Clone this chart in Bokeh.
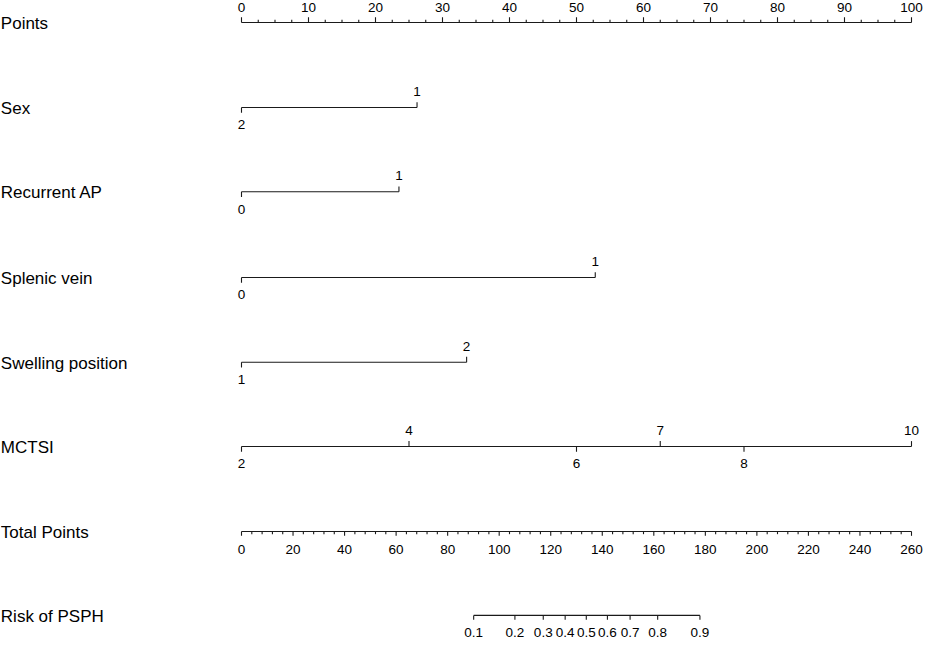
from bokeh.plotting import figure
from bokeh.models import Range1d
from bokeh.core.properties import value
from bokeh.embed import file_html
from bokeh.resources import INLINE

# ---------------- data ----------------
row_names = ["Points", "Sex", "Recurrent AP", "Splenic vein",
             "Swelling position", "MCTSI", "Total Points", "Risk of PSPH"]

points_max = 100
points_major = [0, 10, 20, 30, 40, 50, 60, 70, 80, 90, 100]
points_minor_step = 2.5

sex_levels = ["2", "1"]
sex_points = [0, 26.2]

recurrent_levels = ["0", "1"]
recurrent_points = [0, 23.5]

splenic_levels = ["0", "1"]
splenic_points = [0, 52.8]

swelling_levels = ["1", "2"]
swelling_points = [0, 33.6]

mctsi_levels = ["2", "4", "6", "7", "8", "10"]
mctsi_points = [0, 25.0, 50.0, 62.5, 75.0, 100.0]

total_max = 260
total_major = [0, 20, 40, 60, 80, 100, 120, 140, 160, 180, 200, 220, 240, 260]
total_minor_step = 4

risk_labels = ["0.1", "0.2", "0.3", "0.4", "0.5", "0.6", "0.7", "0.8", "0.9"]
risk_total_points = [90.1, 106.1, 117.1, 125.6, 133.8, 142.0, 150.8, 161.5, 177.9]

# ---------------- layout ----------------
ROW_Y = [22.7, 110.5, 197.5, 286.0, 373.5, 460.5, 548.3, 635.0]
FONT = value("Liberation Sans")
LC = "#1a1a1a"
LW = 1.1
TICK_FS = "13.5px"

p = figure(width=925, height=643,
           x_range=Range1d(-35.97, 102.09), y_range=Range1d(664, 0),
           x_axis_type=None, y_axis_type=None,
           output_backend="svg", toolbar_location=None, min_border=0)
p.grid.visible = False
p.outline_line_color = None
p.background_fill_color = "white"
p.border_fill_color = "white"

xmin = p.x_range.start

# row labels
p.text(x=[xmin + 0.05] * len(row_names), y=[y + 1 for y in ROW_Y], text=row_names,
       text_font=FONT, text_font_size="17px", text_align="left",
       text_baseline="middle", text_color="black")

# ---- Points axis ----
y0 = ROW_Y[0]
p.segment(x0=[0], y0=[y0], x1=[points_max], y1=[y0], line_color=LC, line_width=LW)
minor = []
v = 0.0
while v <= points_max + 1e-9:
    if all(abs(v - m) > 1e-9 for m in points_major):
        minor.append(v)
    v += points_minor_step
p.segment(x0=points_major, y0=[y0] * len(points_major), x1=points_major,
          y1=[y0 - 5.5] * len(points_major), line_color=LC, line_width=LW)
p.segment(x0=minor, y0=[y0] * len(minor), x1=minor, y1=[y0 - 2.8] * len(minor),
          line_color=LC, line_width=LW)
p.text(x=points_major, y=[y0 - 15] * len(points_major),
       text=[str(t) for t in points_major], text_font=FONT, text_font_size=TICK_FS,
       text_align="center", text_baseline="middle", text_color="black")

# ---- categorical / continuous predictors ----
variables = [
    (sex_levels, sex_points),
    (recurrent_levels, recurrent_points),
    (splenic_levels, splenic_points),
    (swelling_levels, swelling_points),
    (mctsi_levels, mctsi_points),
]
for i, (levels, pts) in enumerate(variables):
    y = ROW_Y[i + 1]
    p.segment(x0=[min(pts)], y0=[y], x1=[max(pts)], y1=[y], line_color=LC, line_width=LW)
    up_x, up_t, dn_x, dn_t = [], [], [], []
    for j, (lev, px) in enumerate(zip(levels, pts)):
        if j % 2 == 1:
            up_x.append(px); up_t.append(lev)
        else:
            dn_x.append(px); dn_t.append(lev)
    p.segment(x0=up_x, y0=[y] * len(up_x), x1=up_x, y1=[y - 5.5] * len(up_x),
              line_color=LC, line_width=LW)
    p.segment(x0=dn_x, y0=[y] * len(dn_x), x1=dn_x, y1=[y + 5.5] * len(dn_x),
              line_color=LC, line_width=LW)
    p.text(x=up_x, y=[y - 16.5] * len(up_x), text=up_t, text_font=FONT,
           text_font_size=TICK_FS, text_align="center", text_baseline="middle",
           text_color="black")
    p.text(x=dn_x, y=[y + 18] * len(dn_x), text=dn_t, text_font=FONT,
           text_font_size=TICK_FS, text_align="center", text_baseline="middle",
           text_color="black")

# ---- Total points axis ----
yt = ROW_Y[6]
scale = points_max / total_max
tmaj = [t * scale for t in total_major]
tmin_vals = [t for t in range(0, total_max + 1, total_minor_step) if t not in total_major]
tmin = [t * scale for t in tmin_vals]
p.segment(x0=[0], y0=[yt], x1=[total_max * scale], y1=[yt], line_color=LC, line_width=LW)
p.segment(x0=tmaj, y0=[yt] * len(tmaj), x1=tmaj, y1=[yt + 4.5] * len(tmaj),
          line_color=LC, line_width=LW)
p.segment(x0=tmin, y0=[yt] * len(tmin), x1=tmin, y1=[yt + 2.8] * len(tmin),
          line_color=LC, line_width=LW)
p.text(x=tmaj, y=[yt + 19] * len(tmaj), text=[str(t) for t in total_major],
       text_font=FONT, text_font_size=TICK_FS, text_align="center",
       text_baseline="middle", text_color="black")

# ---- Risk axis ----
yr = ROW_Y[7]
rx = [t * scale for t in risk_total_points]
p.segment(x0=[rx[0]], y0=[yr], x1=[rx[-1]], y1=[yr], line_color=LC, line_width=LW)
p.segment(x0=rx, y0=[yr] * len(rx), x1=rx, y1=[yr + 4.5] * len(rx),
          line_color=LC, line_width=LW)
p.text(x=rx, y=[yr + 17.5] * len(rx), text=risk_labels, text_font=FONT,
       text_font_size=TICK_FS, text_align="center", text_baseline="middle",
       text_color="black")

open("out.html", "w").write(file_html(p, INLINE))
